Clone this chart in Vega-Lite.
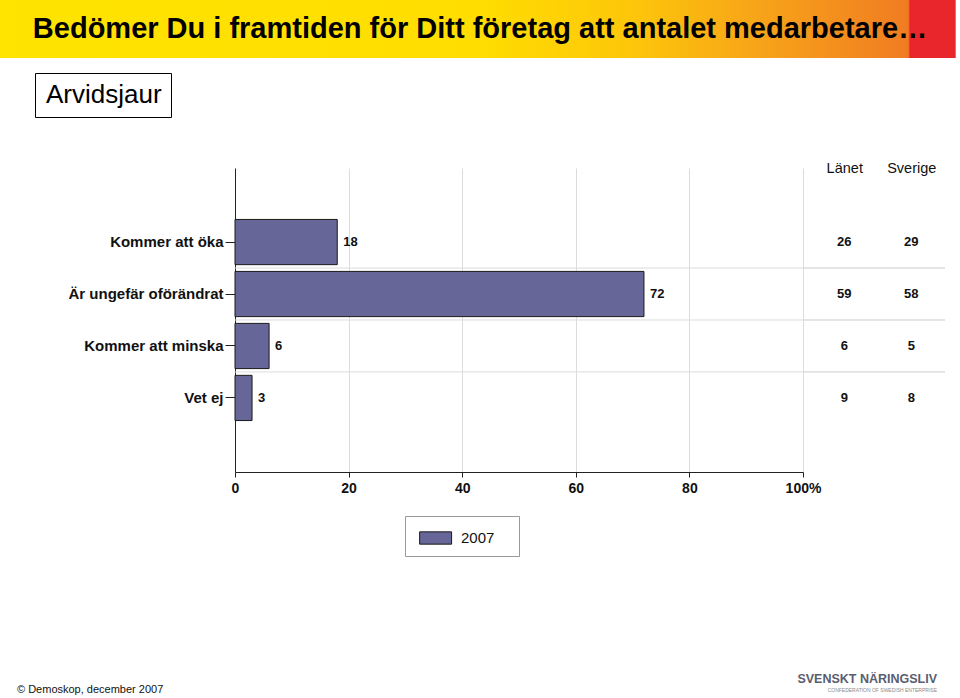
{
  "$schema": "https://vega.github.io/schema/vega-lite/v6.json",
  "padding": 0,
  "background": "white",
  "spacing": 102,
  "config": {"view": {"stroke": null}, "font": "Liberation Sans"},
  "datasets": {
    "survey": [
      {"cat": "Kommer att öka", "v2007": 18, "Länet": 26, "Sverige": 29, "year": "2007", "kommun": "Arvidsjaur"},
      {"cat": "Är ungefär oförändrat", "v2007": 72, "Länet": 59, "Sverige": 58, "year": "2007", "kommun": "Arvidsjaur"},
      {"cat": "Kommer att minska", "v2007": 6, "Länet": 6, "Sverige": 5, "year": "2007", "kommun": "Arvidsjaur"},
      {"cat": "Vet ej", "v2007": 3, "Länet": 9, "Sverige": 8, "year": "2007", "kommun": "Arvidsjaur"}
    ]
  },
  "title": {
    "text": "© Demoskop, december 2007",
    "orient": "bottom",
    "anchor": "start",
    "dx": 17,
    "offset": -9,
    "fontSize": 11,
    "fontWeight": "normal",
    "font": "Liberation Sans",
    "color": "#111111"
  },
  "vconcat": [
    {
      "width": 960,
      "height": 58,
      "data": {"values": [{"t": "Bedömer Du i framtiden för Ditt företag att antalet medarbetare…"}]},
      "layer": [
        {
          "mark": {
            "type": "rect",
            "stroke": null,
            "fill": {
              "gradient": "linear",
              "x1": 0, "y1": 0, "x2": 1, "y2": 0,
              "stops": [
                {"offset": 0, "color": "#FFE400"},
                {"offset": 0.5, "color": "#FFDD00"},
                {"offset": 0.66, "color": "#FDC60A"},
                {"offset": 0.8, "color": "#F7A11A"},
                {"offset": 0.946, "color": "#F07C22"},
                {"offset": 0.948, "color": "#E8262B"},
                {"offset": 0.995, "color": "#E8262B"},
                {"offset": 0.996, "color": "#FFFFFF"},
                {"offset": 1, "color": "#FFFFFF"}
              ]
            }
          },
          "encoding": {}
        },
        {
          "mark": {
            "type": "text",
            "font": "Liberation Sans",
            "fontSize": 29,
            "fontWeight": "bold",
            "color": "#000000",
            "baseline": "middle",
            "align": "center"
          },
          "encoding": {"text": {"field": "t"}}
        }
      ]
    },
    {
      "bounds": "flush",
      "spacing": 0,
      "hconcat": [
        {
          "width": 235,
          "height": 304,
          "data": {"values": [{"t": ""}]},
          "mark": {"type": "text"},
          "encoding": {"text": {"field": "t"}}
        },
        {
          "width": 568,
          "height": 304,
          "data": {"name": "survey"},
          "encoding": {
            "y": {
              "field": "cat",
              "type": "nominal",
              "sort": null,
              "scale": {
                "domain": ["Kommer att öka", "Är ungefär oförändrat", "Kommer att minska", "Vet ej"],
                "paddingInner": 0.13,
                "paddingOuter": 0.99
              },
              "axis": {
                "title": null,
                "labelFontSize": 15,
                "labelFontWeight": "bold",
                "labelColor": "#111111",
                "labelPadding": 2,
                "labelLimit": 400,
                "tickSize": 10,
                "tickColor": "#222222",
                "domainColor": "#222222",
                "grid": false
              }
            }
          },
          "layer": [
            {
              "transform": [{"filter": "datum.cat != 'Kommer att öka'"}],
              "mark": {"type": "rule", "color": "#dcdcdc", "strokeWidth": 1},
              "encoding": {
                "y": {"field": "cat", "type": "nominal", "sort": null, "bandPosition": -0.075}
              }
            },
            {
              "mark": {"type": "bar", "stroke": "#1a1a1a", "strokeWidth": 1},
              "encoding": {
                "x": {
                  "field": "v2007",
                  "type": "quantitative",
                  "scale": {"domain": [0, 100], "nice": false},
                  "axis": {
                    "title": null,
                    "values": [0, 20, 40, 60, 80, 100],
                    "labelExpr": "datum.value == 100 ? '100%' : datum.label",
                    "labelFlush": false,
                    "labelFontSize": 14,
                    "labelFontWeight": "bold",
                    "labelColor": "#111111",
                    "labelPadding": 4,
                    "tickSize": 5,
                    "tickColor": "#222222",
                    "domainColor": "#222222",
                    "grid": true,
                    "gridColor": "#dcdcdc"
                  }
                },
                "color": {
                  "field": "year",
                  "type": "nominal",
                  "scale": {"range": ["#666699"]},
                  "legend": {
                    "title": ".",
                    "titleColor": "#ffffff",
                    "titleOrient": "right",
                    "titleFontSize": 15,
                    "titlePadding": 11,
                    "orient": "none",
                    "legendX": 405,
                    "legendY": 516,
                    "symbolType": "M-0.6,-0.5H2V0.5H-0.6Z",
                    "symbolSize": 605,
                    "symbolStrokeColor": "#1a1a1a",
                    "symbolStrokeWidth": 1,
                    "labelFontSize": 15,
                    "labelColor": "#111111",
                    "labelOffset": 21,
                    "strokeColor": "#999999",
                    "padding": 9
                  }
                }
              }
            },
            {
              "mark": {"type": "text", "align": "left", "dx": 6, "fontSize": 13, "fontWeight": "bold", "color": "#111111"},
              "encoding": {
                "x": {"field": "v2007", "type": "quantitative"},
                "text": {"field": "v2007"},
                "opacity": {
                  "field": "kommun",
                  "type": "nominal",
                  "scale": {"range": [1]},
                  "legend": {
                    "title": null,
                    "orient": "none",
                    "legendX": 35,
                    "legendY": 73,
                    "symbolSize": 0,
                    "symbolOpacity": 0,
                    "symbolStrokeWidth": 0,
                    "labelOffset": -24,
                    "labelFontSize": 26,
                    "labelColor": "#000000",
                    "strokeColor": "#000000",
                    "padding": 9
                  }
                }
              }
            }
          ]
        },
        {
          "width": 142,
          "height": 304,
          "data": {"name": "survey"},
          "transform": [{"fold": ["Länet", "Sverige"], "as": ["col", "val"]}],
          "encoding": {
            "y": {
              "field": "cat",
              "type": "nominal",
              "sort": null,
              "scale": {
                "domain": ["Kommer att öka", "Är ungefär oförändrat", "Kommer att minska", "Vet ej"],
                "paddingInner": 0.13,
                "paddingOuter": 0.99
              },
              "axis": null
            }
          },
          "layer": [
            {
              "transform": [{"filter": "datum.cat != 'Kommer att öka'"}],
              "mark": {"type": "rule", "color": "#dcdcdc", "strokeWidth": 1},
              "encoding": {
                "y": {"field": "cat", "type": "nominal", "sort": null, "bandPosition": -0.075}
              }
            },
            {
              "mark": {"type": "text", "fontSize": 13, "fontWeight": "bold", "color": "#111111"},
              "encoding": {
                "x": {
                  "field": "col",
                  "type": "nominal",
                  "scale": {"type": "point", "domain": ["Länet", "Sverige"], "padding": 0.56, "align": 0.55},
                  "axis": {
                    "orient": "top",
                    "title": null,
                    "ticks": false,
                    "tickSize": 0,
                    "domain": false,
                    "grid": false,
                    "labelAngle": 0,
                    "labelFontSize": 14.5,
                    "labelFontWeight": "normal",
                    "labelColor": "#111111",
                    "labelPadding": -4,
                    "labelBaseline": "alphabetic"
                  }
                },
                "text": {"field": "val"}
              }
            }
          ]
        }
      ]
    },
    {
      "width": 960,
      "height": 70,
      "data": {"values": [{"t": ""}]},
      "mark": {"type": "text"},
      "encoding": {"text": {"field": "t"}},
      "title": {
        "text": "SVENSKT NÄRINGSLIV",
        "subtitle": "CONFEDERATION OF SWEDISH ENTERPRISE",
        "orient": "bottom",
        "anchor": "end",
        "dx": -23,
        "offset": 6,
        "fontSize": 12.5,
        "font": "Liberation Sans",
        "fontWeight": "bold",
        "color": "#5b5d70",
        "subtitleFontSize": 5,
        "subtitleFont": "Liberation Sans",
        "subtitleColor": "#8a8a8a",
        "subtitlePadding": 2
      }
    }
  ]
}
